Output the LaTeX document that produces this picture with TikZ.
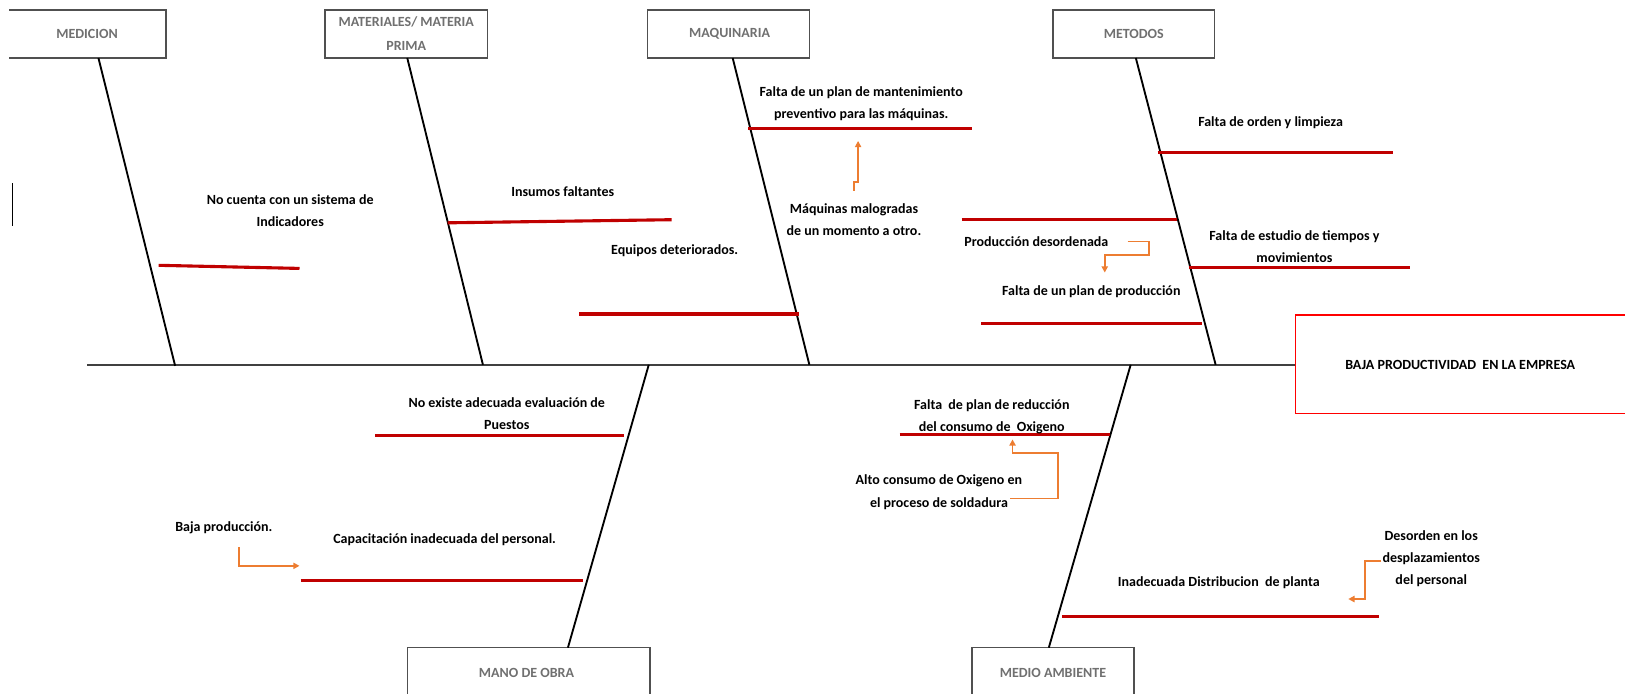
\documentclass[tikz,border=0pt]{standalone}
\usepackage{fontspec}
\setmainfont{Carlito}
\usetikzlibrary{arrows.meta}
\definecolor{cred}{RGB}{192,0,0}
\definecolor{bred}{RGB}{255,0,0}
\definecolor{corange}{RGB}{237,125,49}
\definecolor{cgray}{RGB}{112,112,112}
\definecolor{cbox}{RGB}{80,80,80}
\begin{document}
\begin{tikzpicture}[x=1pt,y=-1pt,
  boxline/.style={draw=cbox,line width=1.4pt},
  cattext/.style={text=cgray,font=\fontsize{13.5}{23}\selectfont\bfseries,align=center,inner sep=0pt},
  lbl/.style={text=black,font=\fontsize{13.5}{21.5}\selectfont\bfseries,align=center,inner sep=0pt},
  bone/.style={draw=black,line width=1.8pt},
  spine/.style={draw=black!75,line width=1.5pt},
  cause/.style={draw=cred,line width=3pt},
  oarrow/.style={draw=corange,line width=1.8pt,-{Triangle[length=6pt,width=6pt]}}]
\useasboundingbox (0,0) rectangle (1568,669);
\fill[white] (0,0) rectangle (1568,669);

% category boxes
\draw[boxline] (9,9.5) -- (160,9.5) -- (160,56) -- (9,56);
\node[cattext] (med) at (84,33) {MEDICION};
\node[boxline,minimum width=157pt,minimum height=46.5pt] (matbox) at (392,32.75) {};
\node[cattext] (mat) at (392,32.5) {MATERIALES/ MATERIA\\PRIMA};
\node[boxline,minimum width=156pt,minimum height=46.5pt] (maqbox) at (703,32.75) {};
\node[cattext] (maq) at (704,33) {MAQUINARIA};
\node[boxline,minimum width=156pt,minimum height=46.5pt] (metbox) at (1094,32.75) {};
\node[cattext] (met) at (1094,33) {METODOS};
\draw[boxline] (393,680) -- (393,625) -- (627,625) -- (627,680);
\node[cattext] (mano) at (508,649) {MANO DE OBRA};
\draw[boxline] (938,680) -- (938,625) -- (1094,625) -- (1094,680);
\node[cattext] (medio) at (1016,649) {MEDIO AMBIENTE};

% effect box
\draw[draw=bred,line width=1.6pt] (1250,304) -- (1575,304) (1250,304) -- (1250,399) -- (1575,399);
\node[lbl] (eff) at (1409,352) {BAJA PRODUCTIVIDAD\ \ EN LA EMPRESA};

% spine
\coordinate (sp0) at (84,352);
\coordinate (sp1) at (1250,352);
\draw[spine] (sp0) -- (sp1);

% bones
\coordinate (b1t) at (95,56);   \coordinate (b1b) at (169,353);
\coordinate (b2t) at (393,56);  \coordinate (b2b) at (466,352);
\coordinate (b3t) at (707,56);  \coordinate (b3b) at (781,352);
\coordinate (b4t) at (1096,56); \coordinate (b4b) at (1173,352);
\coordinate (b5t) at (626,352); \coordinate (b5b) at (548,625);
\coordinate (b6t) at (1091,352); \coordinate (b6b) at (1012,625);
\foreach \i in {1,...,6} {\draw[bone] (b\i t) -- (b\i b);}

% stray mark
\coordinate (m0) at (12,177); \coordinate (m1) at (12,218);
\draw[black,line width=1.8pt] (m0) -- (m1);

% cause lines
\draw[cause] (153,256) -- (289,259);
\draw[cause] (432,215) -- (648,212);
\draw[cause] (559,303) -- (771,303);
\draw[cause] (722,124) -- (938,124);
\draw[cause] (1117,147) -- (1344,147);
\draw[cause] (928,212) -- (1136,212);
\draw[cause] (1147,258) -- (1361,258);
\draw[cause] (947,312) -- (1160,312);
\draw[cause] (362,420) -- (602,420);
\draw[cause] (290,560) -- (563,560);
\draw[cause] (868,419) -- (1071,419);
\draw[cause] (1025,595) -- (1331,595);

% labels
\node[lbl] (c1) at (280,203) {No cuenta con un sistema de\\Indicadores};
\node[lbl] (c2) at (543,185) {Insumos faltantes};
\node[lbl] (c3) at (651,242) {Equipos deteriorados.};
\node[lbl] (c4) at (831,100) {Falta de un plan de mantenimiento\\preventivo para las máquinas.};
\node[lbl] (c5) at (824,212) {Máquinas malogradas\\de un momento a otro.};
\node[lbl] (c6) at (1226,118) {Falta de orden y limpieza};
\node[lbl] (c7) at (1000,233) {Producción desordenada};
\node[lbl] (c8) at (1249,238) {Falta de estudio de tiempos y\\movimientos};
\node[lbl] (c9) at (1053,281) {Falta de un plan de producción};
\node[lbl] (c10) at (489,399) {No existe adecuada evaluación de\\Puestos};
\node[lbl] (c11) at (216,509) {Baja producción.};
\node[lbl] (c12) at (429,521) {Capacitación inadecuada del personal.};
\node[lbl] (c13) at (957,402) {Falta\ \ de plan de reducción\\del consumo de\ \ Oxigeno};
\node[lbl] (c14) at (906,475) {Alto consumo de Oxigeno en\\el proceso de soldadura};
\node[lbl] (c15) at (1381,539) {Desorden en los\\desplazamientos\\del personal};
\node[lbl] (c16) at (1176,562) {Inadecuada Distribucion\ \ de planta};

% orange arrows
\coordinate (a1s) at (824,184); \coordinate (a1e) at (828,136);
\draw[oarrow] (a1s) -- (824,176) -- (828,176) -- (a1e);
\coordinate (a2s) at (1088,233); \coordinate (a2e) at (1066,263);
\draw[oarrow] (a2s) -- (1109,233) -- (1109,246) -- (1066,246) -- (a2e);
\coordinate (a3s) at (231,528); \coordinate (a3e) at (289,546);
\draw[oarrow] (a3s) -- (231,546) -- (a3e);
\coordinate (a4s) at (975,481); \coordinate (a4e) at (977,424);
\draw[oarrow] (a4s) -- (1021,481) -- (1021,437) -- (977,437) -- (a4e);
\coordinate (a5s) at (1333,541); \coordinate (a5e) at (1301,578);
\draw[oarrow] (a5s) -- (1317,541) -- (1317,578) -- (a5e);
\end{tikzpicture}
\end{document}
